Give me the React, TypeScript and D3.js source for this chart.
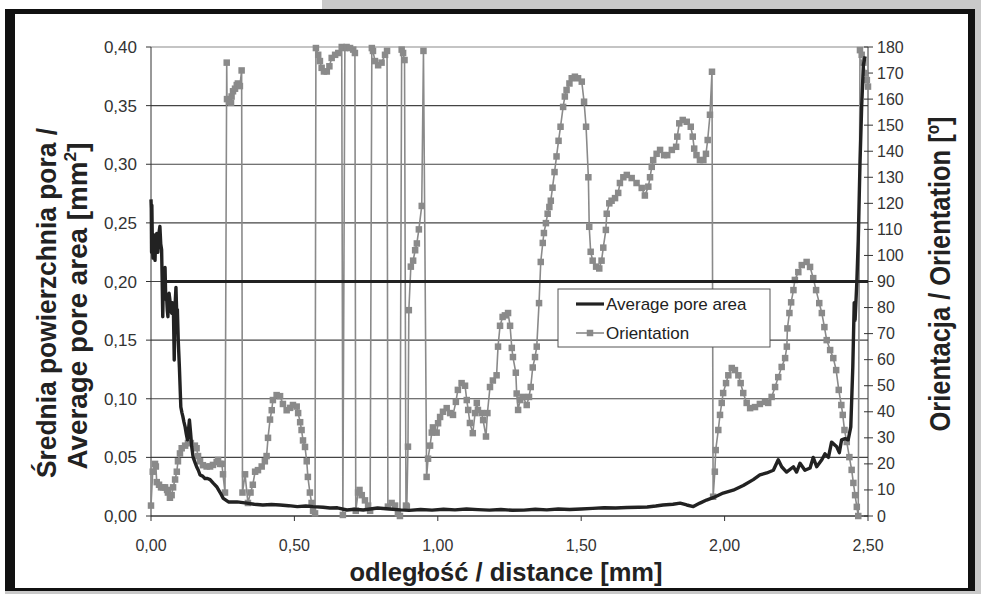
import React from "react";
import * as d3 from "d3";

// ---------- DATA ----------
const poreDist = [
  0.000, 0.001, 0.002, 0.003, 0.005, 0.007, 0.009, 0.010, 0.012, 0.014, 0.016, 0.018, 0.020, 0.022, 0.024, 0.027,
  0.031, 0.034, 0.037, 0.039, 0.041, 0.043, 0.044, 0.046, 0.049, 0.051, 0.055, 0.057, 0.059, 0.061, 0.063, 0.066,
  0.069, 0.072, 0.075, 0.078, 0.081, 0.084, 0.087, 0.090, 0.092, 0.095, 0.099, 0.104, 0.108, 0.111, 0.115, 0.119,
  0.123, 0.127, 0.131, 0.134, 0.138, 0.142, 0.147, 0.153, 0.159, 0.165, 0.171, 0.180, 0.188, 0.197, 0.206, 0.217,
  0.229, 0.241, 0.252, 0.270, 0.300, 0.334, 0.360, 0.390, 0.420, 0.450,
  0.480, 0.510, 0.540, 0.565, 0.600, 0.624, 0.650, 0.683, 0.710, 0.740, 0.790, 0.830, 0.870, 0.900, 0.940, 0.980,
  1.020, 1.060, 1.100, 1.140, 1.180, 1.220, 1.260, 1.300, 1.340, 1.380, 1.420, 1.460, 1.500, 1.540, 1.580, 1.620,
  1.660, 1.700, 1.730, 1.760, 1.785, 1.820, 1.845, 1.868, 1.891, 1.914, 1.937, 1.960, 1.995, 2.030, 2.065, 2.100,
  2.123, 2.147, 2.170, 2.187, 2.199, 2.216, 2.240, 2.251, 2.263, 2.280, 2.298, 2.309, 2.321, 2.339, 2.350, 2.362,
  2.373, 2.391, 2.400, 2.408, 2.420, 2.431, 2.440, 2.447, 2.452, 2.455, 2.461, 2.466, 2.472, 2.478, 2.484, 2.490
];
const poreArea = [
  0.270, 0.262, 0.225, 0.265, 0.228, 0.220, 0.240, 0.235, 0.222, 0.218, 0.235, 0.226, 0.241, 0.230, 0.225, 0.240,
  0.247, 0.232, 0.227, 0.200, 0.170, 0.200, 0.210, 0.185, 0.212, 0.190, 0.184, 0.175, 0.170, 0.185, 0.190, 0.184,
  0.176, 0.173, 0.182, 0.178, 0.133, 0.180, 0.195, 0.170, 0.176, 0.150, 0.127, 0.093, 0.088, 0.085, 0.080, 0.076,
  0.070, 0.065, 0.074, 0.082, 0.071, 0.059, 0.050, 0.046, 0.042, 0.039, 0.035, 0.034, 0.032, 0.032, 0.031, 0.028,
  0.025, 0.020, 0.015, 0.012, 0.012, 0.011, 0.010, 0.0094, 0.0098, 0.0094,
  0.0088, 0.008, 0.0085, 0.008, 0.0075, 0.0068, 0.007, 0.0051, 0.0058, 0.0051, 0.0068, 0.006, 0.0052, 0.0048, 0.0055, 0.005,
  0.0058, 0.0052, 0.006, 0.0054, 0.005, 0.0056, 0.0049, 0.005, 0.0057, 0.0052, 0.006, 0.0055, 0.006, 0.0065, 0.007, 0.0068,
  0.0072, 0.0075, 0.0077, 0.0085, 0.0094, 0.010, 0.011, 0.0094, 0.008, 0.011, 0.0136, 0.0156, 0.0196, 0.022, 0.026, 0.031,
  0.035, 0.0367, 0.039, 0.048, 0.042, 0.0375, 0.042, 0.0375, 0.045, 0.039, 0.041, 0.050, 0.042, 0.048, 0.053, 0.050,
  0.063, 0.059, 0.054, 0.065, 0.066, 0.065, 0.076, 0.127, 0.182, 0.167, 0.199, 0.235, 0.300, 0.350, 0.385, 0.392
];

const orientDist = [
  0.000, 0.006, 0.014, 0.017, 0.020, 0.028, 0.035, 0.042, 0.049, 0.056, 0.059, 0.066, 0.072, 0.077, 0.084, 0.090,
  0.094, 0.101, 0.107, 0.119, 0.129, 0.139, 0.153, 0.159, 0.164, 0.171, 0.181, 0.194, 0.206, 0.216, 0.229, 0.234,
  0.241, 0.247, 0.251, 0.258, 0.264, 0.265, 0.272, 0.279, 0.281, 0.286, 0.293, 0.299, 0.303, 0.310, 0.316, 0.319,
  0.328, 0.338, 0.347, 0.355, 0.363, 0.373, 0.386, 0.397, 0.403, 0.408, 0.415, 0.421, 0.425, 0.438, 0.450, 0.460,
  0.473, 0.485, 0.495, 0.508, 0.513, 0.520, 0.525, 0.530, 0.537, 0.543, 0.547, 0.554, 0.560, 0.565, 0.572, 0.575,
  0.583, 0.589, 0.595, 0.603, 0.613, 0.622, 0.630, 0.642, 0.653, 0.665, 0.669, 0.676, 0.682, 0.694, 0.705, 0.711,
  0.714, 0.722, 0.727, 0.735, 0.746, 0.757, 0.764, 0.770, 0.774, 0.781, 0.792, 0.804, 0.816, 0.823, 0.826, 0.839,
  0.851, 0.861, 0.868, 0.874, 0.879, 0.884, 0.889, 0.892, 0.896, 0.899, 0.906, 0.914, 0.921, 0.927, 0.934, 0.944,
  0.950, 0.961, 0.966, 0.973, 0.979, 0.983, 0.996, 1.001, 1.008, 1.018, 1.031, 1.043, 1.053, 1.063, 1.070, 1.083,
  1.095, 1.101, 1.106, 1.112, 1.122, 1.130, 1.136, 1.140, 1.153, 1.158, 1.168, 1.173, 1.182, 1.192, 1.205, 1.210,
  1.217, 1.226, 1.234, 1.245, 1.252, 1.258, 1.262, 1.272, 1.275, 1.280, 1.287, 1.297, 1.310, 1.318, 1.324, 1.331,
  1.339, 1.345, 1.353, 1.359, 1.366, 1.370, 1.377, 1.383, 1.389, 1.394, 1.400, 1.407, 1.414, 1.421, 1.428, 1.437,
  1.443, 1.449, 1.459, 1.467, 1.478, 1.489, 1.502, 1.510, 1.517, 1.525, 1.528, 1.533, 1.540, 1.552, 1.563, 1.571,
  1.577, 1.586, 1.589, 1.598, 1.606, 1.618, 1.629, 1.635, 1.647, 1.659, 1.676, 1.693, 1.711, 1.722, 1.734, 1.740,
  1.746, 1.751, 1.763, 1.775, 1.789, 1.800, 1.816, 1.831, 1.835, 1.842, 1.854, 1.868, 1.882, 1.889, 1.894, 1.902,
  1.914, 1.926, 1.935, 1.941, 1.949, 1.956, 1.960, 1.966, 1.969, 1.978, 1.984, 1.990, 1.995, 2.005, 2.013, 2.025,
  2.036, 2.048, 2.056, 2.065, 2.077, 2.089, 2.106, 2.123, 2.141, 2.152, 2.164, 2.176, 2.187, 2.199, 2.211, 2.217,
  2.219, 2.226, 2.232, 2.240, 2.245, 2.257, 2.269, 2.286, 2.298, 2.309, 2.319, 2.330, 2.339, 2.348, 2.356, 2.368,
  2.379, 2.389, 2.398, 2.407, 2.412, 2.418, 2.426, 2.435, 2.443, 2.449, 2.455, 2.461, 2.466, 2.472, 2.478, 2.484,
  2.490, 2.496, 2.500
];
const orientDeg = [
  4, 17, 20, 19, 13, 12, 11, 11, 11, 10, 9, 7, 8, 11, 14, 17,
  21, 24, 26, 27, 28, 28, 27, 26, 23, 21, 19.5, 19, 19, 19.6, 20.7, 21.5,
  20, 20, 16, 9, 174, 160, 159, 158.6, 161, 163, 164, 165.4, 166, 165, 171, 9,
  16, 5, 9, 12, 17, 17.6, 19, 21, 23, 30, 37, 40.6, 44.5, 46.4, 46, 43,
  40.6, 41.5, 42.6, 42, 39.5, 36, 33, 29, 26.5, 21, 15, 9, 5, 2, 1, 179.6,
  177, 174.6, 172, 170.6, 170.6, 172.6, 175.8, 177, 177.7, 180, 0.4, 179.6, 180, 179.6, 179, 177.7,
  2, 9, 10, 8, 6, 4, 2, 179.6, 178.5, 174.6, 173, 174, 177, 178.5, 3.6, 5,
  4, 1, 0, 179, 177.7, 175, 4, 3.6, 26.6, 79, 95.7, 98, 102, 104.6, 110, 119,
  178.5, 15, 22, 27, 32, 34, 32, 35.6, 38, 40, 41.4, 39.5, 38.8, 43.8, 48.4, 51,
  50, 44.5, 40.7, 35.7, 31.8, 39.5, 43.4, 40.7, 39.5, 36.8, 30.5, 39.5, 49.5, 52, 54, 65,
  73, 76.4, 77, 77.9, 73, 64.5, 61, 55, 47, 40.7, 44.5, 45.7, 42.6, 45.7, 49.5, 57,
  61, 65, 81.7, 97.5, 104.8, 108.6, 112.4, 116, 118.6, 121, 126, 132, 138, 144, 149.4, 157,
  161, 163.5, 166, 168, 168.6, 168, 166.7, 159, 149.4, 130, 111, 101.4, 98, 95.7, 95, 98,
  103, 109.8, 116, 120, 121, 122, 124, 127.8, 130, 130.9, 129.7, 127.8, 125.9, 123, 126.4, 130,
  134, 136.6, 139, 140.5, 138.5, 138.5, 140.5, 141.7, 145.6, 150.7, 152, 151.3, 149.4, 145.6, 141, 138.5,
  136.6, 136.6, 139, 144.3, 154, 170.5, 7.4, 17, 25.3, 33, 38.8, 43.4, 47.2, 51, 54, 56.8,
  56, 54, 51, 47.2, 43.4, 41.4, 41.8, 43, 43.8, 43.4, 45.7, 49.5, 53.3, 57.2, 60.6, 65,
  72, 77.9, 82, 86.7, 90.6, 93.6, 96.3, 97.5, 95.6, 91.3, 86.7, 81.7, 77.9, 72.5, 67.5, 63.7,
  60.6, 56, 48.4, 42.6, 38.8, 33, 28.4, 22.6, 17.7, 12.7, 8, 3.5, 0, 178.8, 177, 174,
  170, 167.3, 164.8
];

// horizontal black line drawn at this pore-area value
const referenceLevel = 0.2;
const referenceStart = 0.04;

const xTickValues = [0, 0.5, 1.0, 1.5, 2.0, 2.5];
const leftTickValues = [0, 0.05, 0.1, 0.15, 0.2, 0.25, 0.3, 0.35, 0.4];
const rightTickValues = [0, 10, 20, 30, 40, 50, 60, 70, 80, 90, 100, 110, 120, 130, 140, 150, 160, 170, 180];

const legendLabels = ["Average pore area", "Orientation"];

// ---------- CHART ----------
const W = 981;
const H = 594;
const plot = { left: 151, right: 868, top: 47, bottom: 516 };

const x = d3.scaleLinear().domain([0, 2.5]).range([plot.left, plot.right]);
const yL = d3.scaleLinear().domain([0, 0.4]).range([plot.bottom, plot.top]);
const yR = d3.scaleLinear().domain([0, 180]).range([plot.bottom, plot.top]);

const comma2 = (v: number) => d3.format(".2f")(v).replace(".", ",");

const TITLE = "'Liberation Sans', Arial, sans-serif";
const SANS = "'Liberation Sans', Arial, sans-serif";

const GRAY = "#8a8a8a";
const DARK = "#222";

export default function App() {
  const pore = poreDist.map((d, i) => [d, poreArea[i]] as [number, number]);
  const orient = orientDist.map((d, i) => [d, orientDeg[i]] as [number, number]);

  const poreLine = d3
    .line<[number, number]>()
    .x((d) => x(d[0]))
    .y((d) => yL(d[1]));
  const orientLine = d3
    .line<[number, number]>()
    .x((d) => x(d[0]))
    .y((d) => yR(d[1]));

  const ms = 6.5;

  return (
    <svg
      width={W}
      height={H}
      viewBox={`0 0 ${W} ${H}`}
      style={{ position: "absolute", left: 0, top: 0, display: "block" }}
    >
      {/* background / frame */}
      <rect x={0} y={0} width={W} height={H} fill="#c9c9c9" />
      <rect x={0} y={0} width={322} height={9} fill="#ffffff" />
      <rect x={0} y={0} width={5} height={H} fill="#ffffff" />
      <rect x={5} y={9} width={970} height={582} fill="#111" />
      <rect x={15} y={14} width={953} height={574} fill="#ffffff" />

      {/* horizontal grid */}
      {leftTickValues.map((v) => (
        <line
          key={"g" + v}
          x1={plot.left}
          x2={plot.right}
          y1={yL(v)}
          y2={yL(v)}
          stroke={v === 0.4 ? "#8a8a8a" : "#444"}
          strokeWidth={1.1}
        />
      ))}

      {/* axes */}
      <line x1={plot.left} x2={plot.left} y1={plot.top} y2={plot.bottom} stroke="#333" strokeWidth={1} />
      <line x1={plot.right} x2={plot.right} y1={plot.top} y2={plot.bottom} stroke="#333" strokeWidth={1} />
      <line x1={plot.left} x2={plot.right} y1={plot.bottom} y2={plot.bottom} stroke="#333" strokeWidth={1} />

      {leftTickValues.map((v) => (
        <g key={"lt" + v}>
          <line x1={plot.left - 5} x2={plot.left} y1={yL(v)} y2={yL(v)} stroke="#333" />
          <text
            x={137}
            y={yL(v) + 6}
            textAnchor="end"
            fontFamily={SANS}
            fontSize={17}
            fill="#333"
          >
            {comma2(v)}
          </text>
        </g>
      ))}
      {rightTickValues.map((v) => (
        <g key={"rt" + v}>
          <line x1={plot.right - 4} x2={plot.right + 5} y1={yR(v)} y2={yR(v)} stroke="#333" />
          <text x={877} y={yR(v) + 5.5} fontFamily={SANS} fontSize={16} fill="#333">
            {v}
          </text>
        </g>
      ))}
      {xTickValues.map((v) => (
        <g key={"xt" + v}>
          <line x1={x(v)} x2={x(v)} y1={plot.bottom} y2={plot.bottom + 5} stroke="#333" />
          <text x={x(v)} y={551} textAnchor="middle" fontFamily={SANS} fontSize={16} fill="#333">
            {comma2(v)}
          </text>
        </g>
      ))}

      {/* orientation series */}
      <path d={orientLine(orient) || ""} fill="none" stroke={GRAY} strokeWidth={1.6} />
      {orient.map((d, i) => (
        <rect
          key={"m" + i}
          x={x(d[0]) - ms / 2}
          y={yR(d[1]) - ms / 2}
          width={ms}
          height={ms}
          fill={GRAY}
        />
      ))}

      {/* pore area series */}
      <line
        x1={x(referenceStart)}
        x2={plot.right}
        y1={yL(referenceLevel)}
        y2={yL(referenceLevel)}
        stroke={DARK}
        strokeWidth={3}
      />
      <path d={poreLine(pore) || ""} fill="none" stroke={DARK} strokeWidth={3.4} strokeLinejoin="round" />

      {/* legend */}
      <rect x={558} y={289} width={212} height={58} fill="#fff" stroke="#555" strokeWidth={1} />
      <line x1={576} x2={604} y1={304} y2={304} stroke={DARK} strokeWidth={3.2} />
      <text x={606} y={310} fontFamily={SANS} fontSize={17} fill="#222">
        {legendLabels[0]}
      </text>
      <line x1={576} x2={604} y1={333} y2={333} stroke={GRAY} strokeWidth={1.6} />
      <rect x={590 - ms / 2} y={333 - ms / 2} width={ms} height={ms} fill={GRAY} />
      <text x={606} y={339} fontFamily={SANS} fontSize={17} fill="#222">
        {legendLabels[1]}
      </text>

      {/* axis titles */}
      <text
        x={506}
        y={581}
        textAnchor="middle"
        fontFamily={TITLE}
        fontWeight="bold"
        fontSize={26}
        textLength={313}
        lengthAdjust="spacingAndGlyphs"
        fill="#222"
      >
        odległość / distance [mm]
      </text>
      <text
        transform="translate(56,303) rotate(-90)"
        textAnchor="middle"
        fontFamily={TITLE}
        fontWeight="bold"
        fontSize={27}
        textLength={350}
        lengthAdjust="spacingAndGlyphs"
        fill="#222"
      >
        Średnia powierzchnia pora /
      </text>
      <text
        transform="translate(87,306) rotate(-90)"
        textAnchor="middle"
        fontFamily={TITLE}
        fontWeight="bold"
        fontSize={27}
        textLength={327}
        lengthAdjust="spacingAndGlyphs"
        fill="#222"
      >
        Average pore area [mm
        <tspan dy={-11} fontSize={17}>2</tspan>
        <tspan dy={11}>]</tspan>
      </text>
      <text
        transform="translate(950,274) rotate(-90)"
        textAnchor="middle"
        fontFamily={TITLE}
        fontWeight="bold"
        fontSize={30}
        textLength={315}
        lengthAdjust="spacingAndGlyphs"
        fill="#222"
      >
        Orientacja / Orientation [
        <tspan dy={-11} fontSize={18}>o</tspan>
        <tspan dy={11}>]</tspan>
      </text>
    </svg>
  );
}
